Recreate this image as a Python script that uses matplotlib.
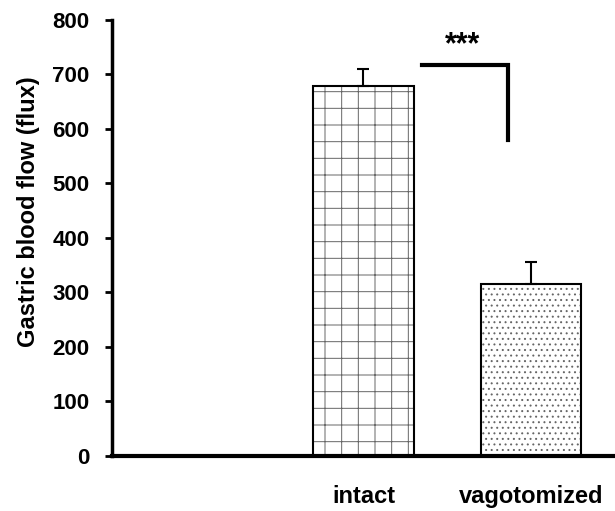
import matplotlib
matplotlib.use("Agg")
import matplotlib.pyplot as plt

plt.rcParams["font.family"] = ["Liberation Sans", "DejaVu Sans"]
plt.rcParams["hatch.linewidth"] = 0.7

# data
groups = ["", "intact", "vagotomized"]
flow = [0, 679, 315]
flow_err = [0, 31, 41]
hatches = [None, "+", "..."]
yticks = [0, 100, 200, 300, 400, 500, 600, 700, 800]

# significance bracket (x in category units, y in flux)
sig_x = [1.35, 1.86, 1.86]
sig_y = [718, 718, 580]
sig_label = "***"

fig = plt.figure(figsize=(6.15, 5.11), dpi=100)
ax = fig.add_axes([0.182, 0.108, 0.818, 0.853])

x = list(range(len(groups)))
for i in x[1:]:
    ax.bar(i, flow[i], width=0.6, color="white", edgecolor="black",
           linewidth=1.5, hatch=hatches[i], zorder=2)
    ax.errorbar(i, flow[i], yerr=[[0], [flow_err[i]]], color="black",
                elinewidth=1.5, capsize=4, capthick=1.5, zorder=3)

# hatch colour (lighter grey like the dotted pattern)
for p in ax.patches:
    p._hatch_color = (0.4, 0.4, 0.4, 1.0)

ax.plot(sig_x, sig_y, color="black", lw=3, solid_capstyle="projecting",
        solid_joinstyle="miter", clip_on=False)
ax.text(1.59, 754, sig_label, ha="center", va="center", fontsize=22,
        fontweight="bold")

ax.set_xlim(-0.5, 2.5)
ax.set_ylim(0, 800)
ax.set_xticks(x)
ax.set_xticklabels(groups, fontsize=17, fontweight="bold")
ax.set_yticks(yticks)
ax.set_yticklabels([str(t) for t in yticks], fontsize=16, fontweight="bold")
ax.tick_params(axis="x", length=0, pad=21)
ax.tick_params(axis="y", length=5, width=2, pad=11)

ax.spines["top"].set_visible(False)
ax.spines["right"].set_visible(False)
ax.spines["left"].set_linewidth(2.5)
ax.spines["bottom"].set_linewidth(3)

ax.set_ylabel("Gastric blood flow (flux)", fontsize=17, fontweight="bold")
ax.yaxis.set_label_coords(-0.142, 0.56)

fig.savefig("out.png", dpi=100, facecolor="white")
